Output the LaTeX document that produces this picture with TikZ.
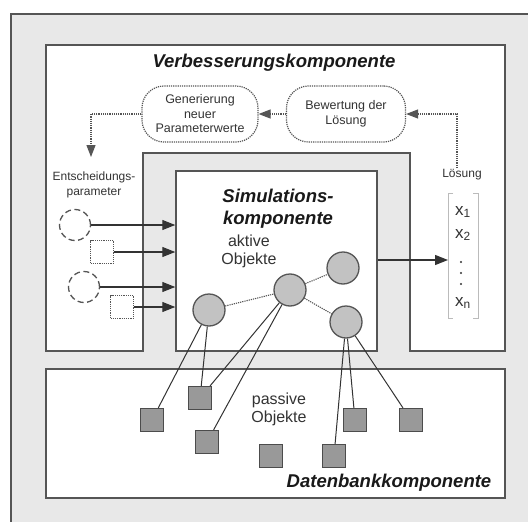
\documentclass[tikz,border=0pt]{standalone}
\usepackage{fontspec}
\setmainfont{Liberation Sans}
\usetikzlibrary{arrows.meta}
\definecolor{framegray}{HTML}{E8E8E8}
\definecolor{linegray}{HTML}{555555}
\definecolor{actfill}{HTML}{C2C2C2}
\definecolor{pasfill}{HTML}{999999}
\definecolor{txtgray}{HTML}{333333}
\definecolor{brgray}{HTML}{BBBBBB}
\begin{document}
\begin{tikzpicture}[x=1pt,y=-1pt,
  boxline/.style={draw=linegray, line width=1.4pt},
  titletext/.style={font=\fontsize{18.5}{22}\selectfont\bfseries\itshape, text=black!90, align=center, inner sep=0pt},
  normtext/.style={font=\fontsize{16}{18}\selectfont, text=txtgray, align=center, inner sep=0pt},
  smalltext/.style={font=\fontsize{12}{14.5}\selectfont, text=txtgray, align=center, inner sep=0pt},
  roundbox/.style={draw=linegray, line width=1.2pt, dash pattern=on 1.2pt off 1pt, rounded corners=22pt, fill=white, minimum height=56pt, inner sep=0pt, font=\fontsize{12.5}{14.5}\selectfont, text=txtgray, align=center},
  dotarrow/.style={draw=linegray, line width=1.2pt, dash pattern=on 1.2pt off 1pt, -{Triangle[length=12pt,width=9pt]}},
  solidarrow/.style={draw=black!80, line width=1.2pt, -{Triangle[length=13pt,width=10pt]}},
  paramcircle/.style={circle, draw=linegray, line width=1.3pt, dash pattern=on 6pt off 3.5pt, minimum size=31pt, inner sep=0pt},
  paramsquare/.style={rectangle, draw=linegray, line width=1.1pt, dash pattern=on 1.2pt off 1pt, minimum size=23pt, inner sep=0pt},
  active/.style={circle, draw=linegray, line width=1.3pt, fill=actfill, minimum size=32pt, inner sep=0pt},
  passive/.style={rectangle, draw=black!70, line width=1.3pt, fill=pasfill, minimum size=23pt, inner sep=0pt},
  conn/.style={draw=black!80, line width=1pt},
  dotconn/.style={draw=linegray, line width=1.1pt, dash pattern=on 1.2pt off 1pt},
  vec/.style={font=\fontsize{17}{17}\selectfont, text=txtgray, inner sep=0pt}
]
\path[use as bounding box] (0,0) rectangle (528,522);
\clip (0,0) rectangle (528,522);
% outer frame
\draw[fill=framegray, draw=linegray, line width=2pt] (11,14) rectangle (560,560);
% upper component (U-shape)
\draw[boxline, fill=white] (46,45) -- (505,45) -- (505,351) -- (410,351) -- (410,153) -- (143,153) -- (143,351) -- (46,351) -- cycle;
% bottom component
\draw[boxline, fill=white] (46,369) rectangle (505,498);
% simulation component
\node[boxline, fill=white, minimum width=201pt, minimum height=180pt, inner sep=0pt] (sim) at (276.5,261) {};

% titles
\node[titletext] (vt) at (274,63) {Verbesserungskomponente};
\node[titletext] (st) at (278,209) {Simulations-\\komponente};
\node[titletext] (dt) at (389,483) {Datenbankkomponente};

% optimisation loop
\node[roundbox, minimum width=116pt] (gen) at (200,114) {Generierung\\neuer\\Parameterwerte};
\node[roundbox, minimum width=119pt] (bew) at (346,114) {Bewertung der\\Lösung};
\node[smalltext] (entsch) at (94,185) {Entscheidungs-\\parameter};
\node[smalltext] (loes) at (462,175) {Lösung};
\coordinate (lt) at (457,168);
\coordinate (et) at (91,157);
\draw[dotarrow] (bew.west) -- (gen.east);
\draw[dotarrow] (lt) |- (bew.east);
\draw[dotarrow] (gen.west) -| (et);

% decision parameters
\node[paramcircle] (c1) at (75,225) {};
\node[paramsquare] (s1) at (102,252) {};
\node[paramcircle] (c2) at (84,287) {};
\node[paramsquare] (s2) at (122,307) {};
\draw[solidarrow] (c1.east) -- (c1.east -| sim.west);
\draw[solidarrow] (s1.east) -- (s1.east -| sim.west);
\draw[solidarrow] (c2.east) -- (c2.east -| sim.west);
\draw[solidarrow] (s2.east) -- (s2.east -| sim.west);

% active objects
\node[normtext] (aktlbl) at (249,251) {aktive\\Objekte};
\node[active] (A) at (209,310) {};
\node[active] (B) at (290,290) {};
\node[active] (C) at (343,268) {};
\node[active] (D) at (346,322) {};
\draw[dotconn] (A) -- (B);
\draw[dotconn] (B) -- (C);
\draw[dotconn] (B) -- (D);

% solution vector
\coordinate (vl) at (448,260);
\draw[solidarrow] (vl -| sim.east) -- (vl);
\draw[draw=brgray, line width=1pt] (453,193) -- (448,193) -- (448,318) -- (453,318);
\draw[draw=brgray, line width=1pt] (473,193) -- (478,193) -- (478,318) -- (473,318);
\node[vec] (x1) at (463,212) {x\textsubscript{1}};
\node[vec] (x2) at (463,235) {x\textsubscript{2}};
\node[fill=txtgray, circle, inner sep=0pt, minimum size=2.2pt] (d1) at (461,262) {};
\node[fill=txtgray, circle, inner sep=0pt, minimum size=2.2pt] (d2) at (461,273) {};
\node[fill=txtgray, circle, inner sep=0pt, minimum size=2.2pt] (d3) at (461,284) {};
\node[vec] (xn) at (463,303) {x\textsubscript{n}};

% passive objects
\node[normtext] (paslbl) at (279,409) {passive\\Objekte};
\node[passive] (P1) at (152,420) {};
\node[passive] (P2) at (200,398) {};
\node[passive] (P3) at (207,442) {};
\node[passive] (P4) at (271,456) {};
\node[passive] (P5) at (334,456) {};
\node[passive] (P6) at (355,420) {};
\node[passive] (P7) at (411,420) {};

% links active -> passive
\draw[conn] (A) -- (P1);
\draw[conn] (A) -- (P2);
\draw[conn] (B) -- (P2);
\draw[conn] (B) -- (P3);
\draw[conn] (D) -- (P5);
\draw[conn] (D) -- (P6);
\draw[conn] (D) -- (P7);
\end{tikzpicture}
\end{document}
